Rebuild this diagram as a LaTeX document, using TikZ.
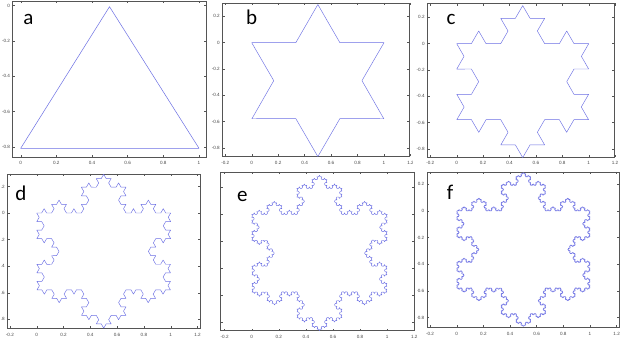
\documentclass[tikz,border=0pt]{standalone}
\usepackage{fontspec}
\newfontfamily\lblfont{Carlito}
\newfontfamily\tickfont{Liberation Sans}
\usetikzlibrary{decorations.fractals}
\definecolor{curveblue}{RGB}{108,112,228}
\definecolor{framegray}{RGB}{85,85,85}
\definecolor{ticktext}{RGB}{70,70,70}
\newif\ifshowylab
\tikzset{
  frame/.style={draw=framegray, line width=0.5pt},
  tickmark/.style={draw=framegray, line width=0.4pt},
  ticklab/.style={font=\tickfont\fontsize{4.6}{5}\selectfont, text=ticktext, inner sep=0pt},
  panellab/.style={font=\lblfont\fontsize{21}{24}\selectfont, anchor=base, inner sep=0pt},
  koch/.style={draw=curveblue, line width=0.45pt, line join=round, decoration=Koch snowflake},
}
\newcommand\drawaxes{%
  \draw[frame] (\BL,\BT) rectangle (\BR,\BB);
  \foreach \t [count=\i] in \XT {
    \pgfmathsetmacro\px{\Xo+\SX*(\t)}
    \draw[tickmark] (\px,\BB) -- ++(0,-2.2) (\px,\BT) -- ++(0,2.2);
    \node[ticklab] (\P x\i) at (\px,\BB+6) {\t};
  }
  \foreach \t [count=\i] in \YT {
    \pgfmathsetmacro\py{\Yo-\SY*(\t)}
    \draw[tickmark] (\BL,\py) -- ++(2.2,0) (\BR,\py) -- ++(-2.2,0);
    \ifshowylab \node[ticklab, anchor=east] (\P y\i) at (\BL-2.5,\py) {\t};\fi
  }
}
\begin{document}
\begin{tikzpicture}[x=1pt, y=-1pt]
\fill[white] (0,0) rectangle (623,339);
\useasboundingbox (0,0) rectangle (623,339);
\def\XT{-0.2,0,0.2,0.4,0.6,0.8,1,1.2}
\def\YT{0.2,0,-0.2,-0.4,-0.6,-0.8}
% ---------- panel a
\begin{scope}
\clip (0,0) rectangle (207.5,168);
\showylabtrue
\def\P{a}\def\BL{12.7}\def\BR{206}\def\BT{1}\def\BB{157}
\def\Xo{20.7}\def\Yo{5.7}\def\SX{178.3}\def\SY{176.5}
\def\XT{0,0.2,0.4,0.6,0.8,1}\def\YT{0,-0.2,-0.4,-0.6,-0.8}
\drawaxes
\coordinate (aT) at (109.5,6.7);
\coordinate (aL) at (20.7,148.3);
\coordinate (aR) at (199,148.3);
\draw[draw=curveblue, line width=0.5pt, line join=round] (aT) -- (aR) -- (aL) -- cycle;
\node[panellab] (la) at (28.3,25) {a};
\end{scope}
% ---------- panel b
\begin{scope}
\clip (207.5,0) rectangle (412,168);
\showylabtrue
\def\P{b}\def\BL{222.5}\def\BR{409.5}\def\BT{3}\def\BB{156.5}
\def\Xo{251.7}\def\Yo{42.7}\def\SX{132.3}\def\SY{131.5}
\drawaxes
\begin{scope}[shift={(\Xo,\Yo)}]
\begin{scope}[x=\SX pt, y=\SY pt]
\draw[koch] decorate{ (0,0) -- (1,0) -- (0.5,-0.8660254) -- (0,0) };
\end{scope}
\end{scope}
\node[panellab] (lb) at (251.7,25) {b};
\end{scope}
% ---------- panel c
\begin{scope}
\clip (412,0) rectangle (623,168);
\showylabtrue
\def\P{c}\def\BL{427.3}\def\BR{614}\def\BT{3.5}\def\BB{157}
\def\Xo{456.7}\def\Yo{43.7}\def\SX{132}\def\SY{131.5}
\drawaxes
\begin{scope}[shift={(\Xo,\Yo)}]
\begin{scope}[x=\SX pt, y=\SY pt]
\draw[koch] decorate{ decorate{ (0,0) -- (1,0) -- (0.5,-0.8660254) -- (0,0) }};
\end{scope}
\end{scope}
\node[panellab] (lc) at (451,25) {c};
\end{scope}
% ---------- panel d (its y labels are cut by the image edge: only their right parts show)
\begin{scope}
\clip (0,168) rectangle (206,339);
\showylabfalse
\def\P{d}\def\BL{7.5}\def\BR{200.5}\def\BT{174}\def\BB{328.5}
\def\Xo{36.7}\def\Yo{213}\def\SX{134}\def\SY{133}
\drawaxes
\foreach \t/\s [count=\i] in {0.2/.2,0/0,-0.2/.2,-0.4/.4,-0.6/.6,-0.8/.8} {
  \pgfmathsetmacro\py{\Yo-\SY*(\t)}
  \node[ticklab, anchor=east] (dy\i) at (\BL-2.5,\py) {\s};
}
\begin{scope}[shift={(\Xo,\Yo)}]
\begin{scope}[x=\SX pt, y=\SY pt]
\draw[koch] decorate{ decorate{ decorate{ (0,0) -- (1,0) -- (0.5,-0.8660254) -- (0,0) }}};
\end{scope}
\end{scope}
\node[panellab] (ld) at (21,200.3) {d};
\end{scope}
% ---------- panel e
\begin{scope}
\clip (206,168) rectangle (417,339);
\showylabfalse
\def\P{e}\def\BL{220.5}\def\BR{414.5}\def\BT{172}\def\BB{330.7}
\def\Xo{251.7}\def\Yo{214.4}\def\SX{135.5}\def\SY{134.2}
\drawaxes
\begin{scope}[shift={(\Xo,\Yo)}]
\begin{scope}[x=\SX pt, y=\SY pt]
\draw[koch] decorate{ decorate{ decorate{ decorate{ (0,0) -- (1,0) -- (0.5,-0.8660254) -- (0,0) }}}};
\end{scope}
\end{scope}
\node[panellab] (le) at (242.3,201.7) {e};
\end{scope}
% ---------- panel f
\begin{scope}
\clip (417,168) rectangle (623,339);
\showylabtrue
\def\P{f}\def\BL{427}\def\BR{619}\def\BT{172}\def\BB{327.5}
\def\Xo{456.7}\def\Yo{211}\def\SX{133.3}\def\SY{133.3}
\drawaxes
\begin{scope}[shift={(\Xo,\Yo)}]
\begin{scope}[x=\SX pt, y=\SY pt]
\draw[koch] decorate{ decorate{ decorate{ decorate{ decorate{ (0,0) -- (1,0) -- (0.5,-0.8660254) -- (0,0) }}}}};
\end{scope}
\end{scope}
\node[panellab] (lf) at (450,199) {f};
\end{scope}
\end{tikzpicture}
\end{document}
